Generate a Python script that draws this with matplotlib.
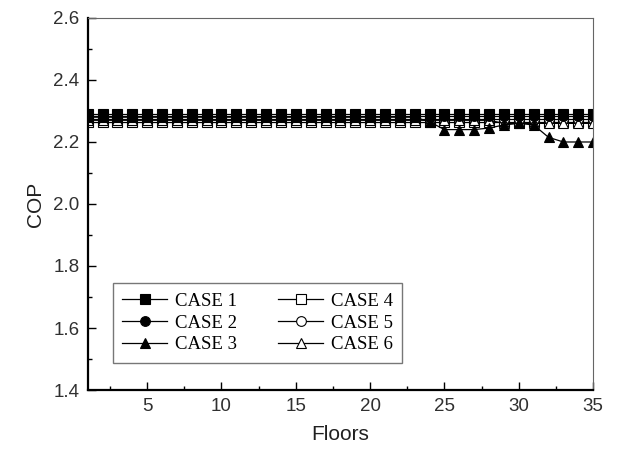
import matplotlib
matplotlib.use('Agg')
import matplotlib.pyplot as plt
from matplotlib.ticker import MultipleLocator

# Dati
floors = list(range(1, 36))

cop_case1 = [2.29] * 35
cop_case2 = [2.285] * 35
cop_case3 = [2.28] * 23 + [2.265, 2.24, 2.24, 2.24, 2.245, 2.255, 2.26, 2.255,
                           2.215, 2.20, 2.20, 2.20]
cop_case4 = [2.265] * 35
cop_case5 = [2.275] * 35
cop_case6 = [2.27] * 28 + [2.26] * 7

labels = ["CASE 1", "CASE 2", "CASE 3", "CASE 4", "CASE 5", "CASE 6"]
series = [cop_case1, cop_case2, cop_case3, cop_case4, cop_case5, cop_case6]
markers = ['s', 'o', '^', 's', 'o', '^']
fills = ['black', 'black', 'black', 'white', 'white', 'white']

fig = plt.figure(figsize=(6.31, 4.61), dpi=100)
ax = fig.add_axes([0.139, 0.154, 0.801, 0.807])

# ordine di disegno: prima i vuoti, poi i pieni sopra
order = [3, 4, 5, 2, 1, 0]
handles = {}
for i in order:
    h, = ax.plot(floors, series[i], color='black', linewidth=0.9,
                 marker=markers[i], markersize=7, markerfacecolor=fills[i],
                 markeredgecolor='black', markeredgewidth=0.8,
                 label=labels[i])
    handles[i] = h

ax.set_xlim(1, 35)
ax.set_ylim(1.4, 2.6)
ax.xaxis.set_minor_locator(MultipleLocator(2.5))
ax.yaxis.set_minor_locator(MultipleLocator(0.1))
ax.set_yticks([1.4, 1.6, 1.8, 2.0, 2.2, 2.4, 2.6])
ax.set_xticks([5, 10, 15, 20, 25, 30, 35])

ax.tick_params(which='both', direction='in', top=False, right=False,
               labelsize=13.5, width=1, color='black', labelcolor='#303030')
ax.tick_params(which='major', length=6, pad=6)
ax.tick_params(which='minor', length=3)
for lab in ax.get_xticklabels() + ax.get_yticklabels():
    lab.set_fontfamily('Liberation Sans')

ax.spines['left'].set_linewidth(1.6)
ax.spines['bottom'].set_linewidth(1.6)
ax.spines['top'].set_color('#666666')
ax.spines['right'].set_color('#666666')

ax.set_xlabel("Floors", fontsize=15, fontfamily='Liberation Sans',
              labelpad=7, color='#202020')
ax.set_ylabel("COP", fontsize=15, fontfamily='Liberation Sans',
              labelpad=6, color='#202020')

leg = ax.legend([handles[i] for i in range(6)], labels, ncol=2,
                loc='lower left', bbox_to_anchor=(0.05, 0.073),
                borderaxespad=0,
                prop={'family': 'Liberation Serif', 'size': 13.5},
                frameon=True, fancybox=False, edgecolor='#555555',
                handlelength=2.4, labelspacing=0.25, columnspacing=2.2,
                handletextpad=0.4, borderpad=0.5)
leg.get_frame().set_linewidth(1.0)

fig.savefig("out.png", dpi=100)
